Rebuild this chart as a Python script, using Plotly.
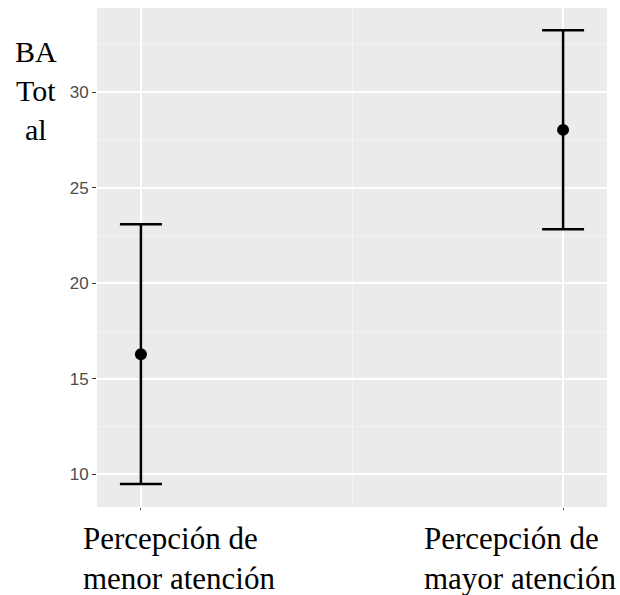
import plotly.graph_objects as go

# Data
categories = ["Percepción de<br>menor atención", "Percepción de<br>mayor atención"]
means = [16.28, 28.03]
upper = [23.09, 33.25]
lower = [9.49, 22.83]
y_ticks = [10, 15, 20, 25, 30]
y_title = "BA<br>Tot<br>al"

xpos = list(range(len(categories)))
err_plus = [u - m for u, m in zip(upper, means)]
err_minus = [m - l for m, l in zip(means, lower)]

fig = go.Figure()
fig.add_trace(go.Scatter(
    x=xpos, y=means, mode="markers",
    marker=dict(color="black", size=12, symbol="circle"),
    error_y=dict(type="data", symmetric=False, array=err_plus, arrayminus=err_minus,
                 color="black", thickness=2.5, width=21),
    showlegend=False, hoverinfo="skip",
))

serif = "Liberation Serif, Times New Roman, serif"
sans = "Liberation Sans, Arial, sans-serif"

fig.update_layout(
    width=620, height=595,
    margin=dict(l=97, r=13, t=8, b=88, pad=0),
    paper_bgcolor="white", plot_bgcolor="#EBEBEB",
    xaxis=dict(
        range=[-0.104, 1.104], tickmode="array", tickvals=xpos, ticktext=["" for _ in xpos],
        showgrid=True, gridcolor="white", gridwidth=1.6, zeroline=False,
        ticks="outside", ticklen=2, tickcolor="#555", tickwidth=1,
        minor=dict(dtick=0.5, tick0=0, showgrid=True, gridcolor="#F4F4F4", gridwidth=1, ticks=""),
        showline=False, fixedrange=True,
    ),
    yaxis=dict(
        range=[8.29, 34.41], tickmode="array", tickvals=y_ticks,
        showgrid=True, gridcolor="white", gridwidth=1.6, zeroline=False,
        ticks="outside", ticklen=4, tickcolor="#333333", tickwidth=1.2,
        tickfont=dict(family=sans, size=17, color="#4D4D4D"),
        minor=dict(dtick=2.5, tick0=0, showgrid=True, gridcolor="#F4F4F4", gridwidth=1, ticks=""),
        showline=False, fixedrange=True,
    ),
    annotations=[
        dict(text=y_title, xref="paper", yref="paper", x=-0.1196, y=0.834,
             xanchor="center", yanchor="middle", align="center", showarrow=False,
             font=dict(family=serif, size=30, color="black")),
        dict(text=categories[0], xref="paper", yref="paper", x=-0.0314, y=-0.1042,
             xanchor="left", yanchor="middle", align="left", showarrow=False,
             font=dict(family=serif, size=31, color="black")),
        dict(text=categories[1], xref="paper", yref="paper", x=0.637, y=-0.1042,
             xanchor="left", yanchor="middle", align="left", showarrow=False,
             font=dict(family=serif, size=31, color="black")),
    ],
)

fig.write_html("out.html")
